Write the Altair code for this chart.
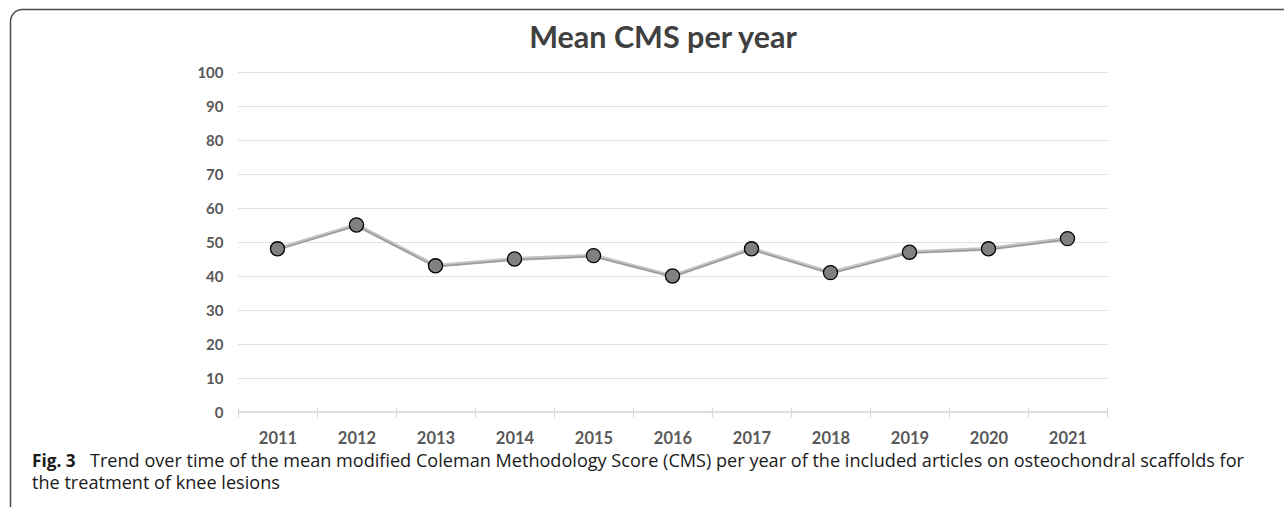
import altair as alt
import pandas as pd

# Mean modified Coleman Methodology Score per publication year
years = ["2011", "2012", "2013", "2014", "2015", "2016", "2017", "2018", "2019", "2020", "2021"]
mean_cms = [48, 55, 43, 45, 46, 40, 48, 41, 47, 48, 51]
y_ticks = [0, 10, 20, 30, 40, 50, 60, 70, 80, 90, 100]

chart_title = "Mean CMS per year"
caption_label = "Fig. 3"
caption_line1 = ("Trend over time of the mean modified Coleman Methodology Score (CMS) per year "
                 "of the included articles on osteochondral scaffolds for")
caption_line2 = "the treatment of knee lesions"

df = pd.DataFrame({"year": years, "cms": mean_cms})
one_row = alt.Data(values=[{"k": 0}])

W, H = 869, 340
PAD_L, PAD_T = 238, 72

x_axis = alt.Axis(
    title=None, labelAngle=0, domain=False, grid=False,
    tickBand="extent", ticks=True, tickSize=10, tickColor="#d9d9d9", tickWidth=1.2,
    offset=-5, labelPadding=26, labelBaseline="alphabetic",
    labelFont="Lato", labelFontWeight="bold", labelFontSize=16.5, labelColor="#595959",
)
y_axis = alt.Axis(
    title=None, values=y_ticks, domain=False, ticks=False, labelPadding=15,
    labelOverlap=False, grid=True, gridDash=[1, 1], gridColor="#c4c4c4", gridWidth=1,
    labelFont="Lato", labelFontWeight="bold", labelFontSize=15, labelColor="#595959",
)
y_scale = alt.Scale(domain=[0, 100], nice=False)

base = alt.Chart(df).encode(
    x=alt.X("year:N", sort=years, scale=alt.Scale(paddingInner=0, paddingOuter=0), axis=x_axis),
    y=alt.Y("cms:Q", scale=y_scale, axis=y_axis),
)

line_back = base.mark_line(color="#c4c4c4", strokeWidth=3.8)
line_front = base.mark_line(color="#9a9a9a", strokeWidth=1.5, yOffset=0.8)
points = base.mark_point(
    shape="circle", filled=True, size=200, fill="#808080", stroke="#000000", strokeWidth=1.3, opacity=1
)

# Category axis baseline at zero
baseline = alt.Chart(one_row).mark_rule(color="#d9d9d9", strokeWidth=1.5).encode(
    y=alt.YDatum(0, scale=y_scale, axis=y_axis), x=alt.value(0), x2=alt.value(W)
)

# Figure frame with a rounded top-left corner
frame = alt.Chart(one_row).mark_rect(
    fill="transparent", stroke="#4a4a4a", strokeWidth=1.5, cornerRadius=12
).encode(
    x=alt.value(10.5 - PAD_L), x2=alt.value(1320 - PAD_L),
    y=alt.value(9.5 - PAD_T), y2=alt.value(540 - PAD_T),
)

title_mark = alt.Chart(one_row).mark_text(
    align="center", baseline="alphabetic", font="Lato", fontWeight="bold", fontSize=30.5, color="#404040"
).encode(text=alt.value(chart_title), x=alt.value(663 - PAD_L), y=alt.value(48 - PAD_T))

cap_font = "Open Sans"
cap_size = 18.1
cap_bold = alt.Chart(one_row).mark_text(
    align="left", baseline="alphabetic", font=cap_font, fontWeight="bold", fontSize=17.2, color="#1a1a1a"
).encode(text=alt.value(caption_label), x=alt.value(32 - PAD_L), y=alt.value(467 - PAD_T))
cap_1 = alt.Chart(one_row).mark_text(
    align="left", baseline="alphabetic", font=cap_font, fontSize=cap_size, color="#1a1a1a"
).encode(text=alt.value(caption_line1), x=alt.value(90 - PAD_L), y=alt.value(467 - PAD_T))
cap_2 = alt.Chart(one_row).mark_text(
    align="left", baseline="alphabetic", font=cap_font, fontSize=cap_size, color="#1a1a1a"
).encode(text=alt.value(caption_line2), x=alt.value(32 - PAD_L), y=alt.value(489 - PAD_T))

chart = alt.layer(
    frame, baseline, line_back, line_front, points, title_mark, cap_bold, cap_1, cap_2
).properties(
    width=W, height=H,
    background="white",
    autosize=alt.AutoSizeParams(type="none"),
    padding={"left": PAD_L, "top": PAD_T, "right": 1284 - PAD_L - W, "bottom": 507 - PAD_T - H},
).configure_view(stroke=None)

chart.save("out.html", embed_options={"renderer": "svg", "actions": False})
